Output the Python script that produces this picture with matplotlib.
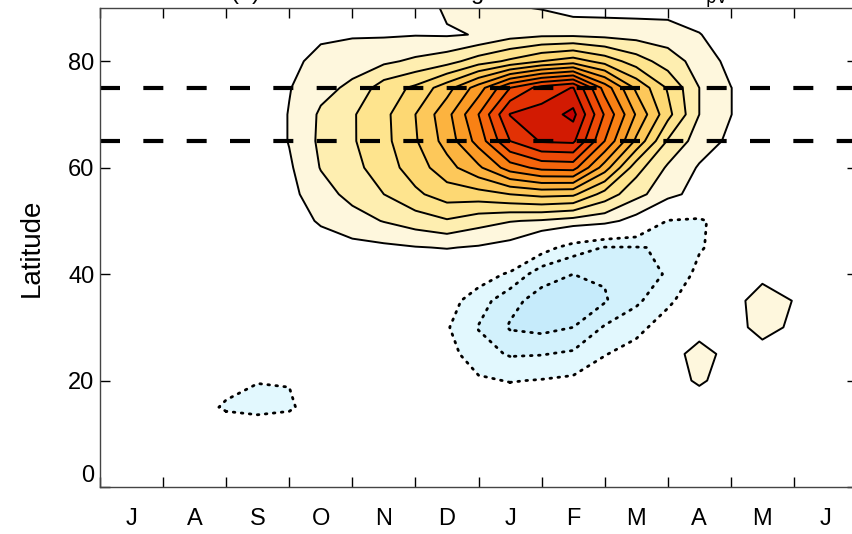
import numpy as np
import matplotlib
matplotlib.use("Agg")
import matplotlib.pyplot as plt

plt.rcParams['font.family'] = ['Liberation Sans Narrow', 'Liberation Sans', 'DejaVu Sans']
plt.rcParams['mathtext.fontset'] = 'custom'
plt.rcParams['mathtext.rm'] = 'Liberation Sans Narrow'
plt.rcParams['mathtext.it'] = 'Liberation Sans Narrow:italic'
plt.rcParams['lines.scale_dashes'] = False

# Month labels (July to June), drawn at the middle of each month
months = ['J', 'A', 'S', 'O', 'N', 'D', 'J', 'F', 'M', 'A', 'M', 'J']

# Sample positions: months since 1 July (half-month steps) and latitude (5 deg steps)
time_nodes = np.arange(0, 12.01, 0.5)
lat_nodes = np.arange(0, 91, 5)

# Gridded index, one row per latitude (0N ... 90N), one value per half month
index_rows = [
    [0, 0, 0, 0, 0, 0, 0, 0, 0, 0, 0, 0, 0, 0, 0, 0, 0, 0, 0, 0, 0, 0, 0, 0, 0],
    [0, 0, 0, 0, 0, 0, 0, 0, 0, 0, 0, 0, 0, 0, 0, 0, 0, 0, 0, 0, 0, 0, 0, 0, 0],
    [0, 0, 0, 0, -0.2, 0, -0.2, 0, 0, 0, 0, 0, 0, 0, 0, 0, 0, 0, 0, 0, 0, 0, 0, 0, 0],
    [0, 0, 0, -0.5, -1.15, -1.4, -1.15, -0.4, 0, 0, 0, 0, 0, -0.3, -0.4, -0.3, 0, 0, 0, 0.2, 0, 0, 0, 0, 0],
    [0, 0, 0, -0.3, -0.6, -0.95, -0.95, -0.3, 0, 0, 0, 0, -0.85, -1.05, -0.95, -0.8, -0.4, -0.1, 0.4, 1.2, 0.4, 0, 0, 0, 0],
    [0, 0, 0, 0, 0, 0, 0, 0, 0, 0, 0, -0.6, -1.6, -2.1, -2.05, -1.85, -1.05, -0.6, 0.2, 1.7, 0.4, 0.3, 0, 0, 0],
    [0, 0, 0, 0, 0, 0, 0, 0, 0, 0, 0, -0.9, -2.05, -3.1, -3.3, -3.0, -1.9, -1.3, -0.5, 0.2, 0.3, 1.6, 0.7, 0, 0],
    [0, 0, 0, 0, 0, 0, 0, 0, 0, 0, 0, -0.6, -1.5, -2.7, -3.4, -3.3, -3.1, -2.2, -1.2, -0.3, 0.4, 1.7, 0.95, 0, 0],
    [0, 0, 0, 0, 0, 0, 0, 0, 0, 0.1, 0.2, 0, -0.5, -1.15, -2.6, -3.0, -2.9, -2.5, -1.9, -0.7, -0.2, 0.6, 0.3, 0, 0],
    [0, 0, 0, 0, 0, 0, 0, 0.4, 0.7, 0.8, 0.95, 1.05, 0.9, 0.6, -0.5, -1.5, -2.05, -2.05, -1.9, -1.1, -0.5, -0.1, 0, 0, 0],
    [0, 0, 0, 0, 0, 0, 0.4, 1.15, 1.6, 2.05, 2.5, 2.9, 2.4, 2.05, 1.9, 1.6, 1.35, 0.6, -1.05, -1.15, -0.5, 0, 0, 0, 0],
    [0, 0, 0, 0, 0, 0.2, 0.7, 1.6, 2.3, 3.0, 3.8, 4.5, 4.6, 5.0, 5.3, 5.2, 3.6, 2.3, 1.4, 0.5, 0, 0, 0, 0, 0],
    [0, 0, 0, 0, 0, 0.2, 0.85, 2.05, 2.7, 3.5, 4.5, 5.6, 6.8, 8.5, 9.3, 9.4, 6.5, 3.4, 1.85, 0.9, 0.6, 0.2, 0, 0, 0],
    [0, 0, 0, 0, 0, 0.2, 1.05, 2.2, 2.9, 3.7, 4.9, 6.4, 8.4, 11.0, 12.1, 12.2, 9.0, 5.8, 2.9, 1.5, 0.8, 0.3, 0, 0, 0],
    [0, 0, 0, 0, 0, 0.2, 1.05, 2.15, 2.9, 3.73, 5.0, 6.67, 9.0, 12.05, 12.4, 13.3, 9.9, 6.9, 4.33, 2.0, 1.02, 0.3, 0, 0, 0],
    [0, 0, 0, 0, 0, 0.2, 0.95, 1.7, 2.2, 3.5, 4.2, 5.6, 7.5, 10.0, 11.4, 12.05, 8.6, 5.8, 3.9, 2.0, 1.02, 0.3, 0, 0, 0],
    [0, 0, 0, 0, 0, 0.1, 0.7, 1.35, 1.6, 1.8, 2.2, 2.6, 3.5, 4.2, 5.0, 5.5, 4.6, 3.5, 2.5, 1.6, 0.7, 0.2, 0, 0, 0],
    [0, 0, 0, 0, 0, 0, 0.2, 0.8, 0.9, 0.9, 0.95, 0.9, 1.05, 1.6, 1.8, 1.8, 1.7, 1.6, 1.5, 1.05, 0.4, 0.1, 0, 0, 0],
    [0, 0, 0, 0, 0, 0, 0, 0.3, 0.4, 0.4, 0.5, 1.15, 1.3, 1.1, 0.95, 0.6, 0.6, 0.6, 0.6, 0.4, 0.1, 0, 0, 0, 0],
]

pos_levels = np.arange(1, 14)
neg_levels = np.array([-3, -2, -1])

pos_colors = ['#fef7dd', '#feeeb0', '#fee48e', '#fdd873', '#fdc85a', '#fcb33f',
              '#fb9b26', '#f98114', '#f5650c', '#ee4a07', '#e23104', '#d21a02', '#c60000']
neg_colors = ['#c6ebfb', '#d2f1fc', '#e2f8fe']

field = np.array(index_rows, dtype=float)

fig = plt.figure(figsize=(8.52, 5.34), dpi=100)
ax = fig.add_axes([100 / 852, 47 / 534, 757 / 852, 479 / 534])

fill_levels = np.concatenate([[-50], neg_levels, pos_levels, [50]])
fill_colors = neg_colors + ['white'] + pos_colors
ax.contourf(time_nodes, lat_nodes, field, levels=fill_levels, colors=fill_colors)

ax.contour(time_nodes, lat_nodes, field, levels=pos_levels, colors='black',
           linewidths=1.4, linestyles='solid')
neg = ax.contour(time_nodes, lat_nodes, field, levels=neg_levels, colors='black',
                 linewidths=2.0, linestyles=[(0, (1.2, 4.6))])
neg.set_capstyle('round')

for lat in (65, 75):
    ax.axhline(lat, color='black', lw=3.0, dashes=(14.4, 16.8), dash_capstyle='butt')

ax.set_xlim(0, 12)
ax.set_ylim(0, 90)
ax.set_xticks(np.arange(0, 13))
ax.set_xticklabels([])
ax.set_xticks(np.arange(12) + 0.5, minor=True)
ax.set_xticklabels(months, minor=True)
ax.set_yticks([0, 20, 40, 60, 80])
ax.tick_params(axis='both', which='major', direction='in', length=7, width=1.0,
               top=True, right=True, labelsize=17, pad=4)
ax.tick_params(axis='x', which='minor', length=0, labelsize=17, pad=15)
# the lowest latitude label sits on top of the bottom axis line
ax.yaxis.get_major_ticks()[0].label1.set_verticalalignment('bottom')
for s in ax.spines.values():
    s.set_linewidth(1.0)
    s.set_color('#444444')
ax.set_ylabel('Latitude', fontsize=20, labelpad=17)

ax.text(0.5, 1.0 + 8 / 479,
        '(b) Zonal mean blocking index derived from Z$_{\\mathrm{pv}}$',
        transform=ax.transAxes, ha='center', va='baseline', fontsize=17)

fig.savefig('out.png', dpi=100)
